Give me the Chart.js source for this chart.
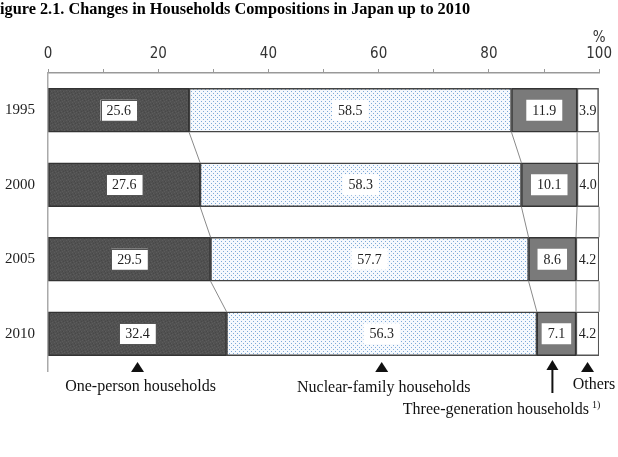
<!DOCTYPE html>
<html><head><meta charset="utf-8">
<script src="https://cdn.jsdelivr.net/npm/chart.js@4.4.1/dist/chart.umd.min.js"></script>
<style>html,body{margin:0;padding:0;background:#fff}#wrap{width:618px;height:457px;position:relative}</style>
</head><body><div id="wrap"><canvas id="c" width="618" height="457"></canvas></div>
<script>
const years = ['1995', '2000', '2005', '2010'];
const onePerson = [25.6, 27.6, 29.5, 32.4];
const nuclear = [58.5, 58.3, 57.7, 56.3];
const threeGen = [11.9, 10.1, 8.6, 7.1];
const others = [3.9, 4.0, 4.2, 4.2];
const seriesNames = ['One-person households', 'Nuclear-family households', 'Three-generation households', 'Others'];
const xTicks = [0, 20, 40, 60, 80, 100];
const titleText = 'igure 2.1. Changes in Households Compositions in Japan up to 2010';

const SERIF = '"Liberation Serif", "DejaVu Serif", serif';
const NARROW = '"Liberation Sans Narrow", "DejaVu Sans Condensed", sans-serif';

function makePattern(size, draw) {
  const c = document.createElement('canvas');
  c.width = c.height = size;
  const g = c.getContext('2d');
  draw(g);
  return g.createPattern(c, 'repeat');
}
const darkPat = makePattern(6, g => {
  g.fillStyle = '#515151'; g.fillRect(0, 0, 6, 6);
  g.fillStyle = '#5c5c5c';
  [[0,0],[3,1],[1,3],[4,4],[2,5]].forEach(p => g.fillRect(p[0], p[1], 1, 1));
  g.fillStyle = '#474747';
  [[2,1],[5,2],[0,4],[3,3]].forEach(p => g.fillRect(p[0], p[1], 1, 1));
});
const dotPat = makePattern(4, g => {
  g.fillStyle = '#f6f9fd'; g.fillRect(0, 0, 4, 4);
  g.fillStyle = '#7eaad8';
  g.fillRect(1, 1, 1, 1); g.fillRect(3, 3, 1, 1);
});

const overlay = {
  id: 'overlay',
  afterDatasetsDraw(chart) {
    const ctx = chart.ctx;
    const xs = chart.scales.x;
    const metas = [0,1,2,3].map(i => chart.getDatasetMeta(i));
    const sets = [onePerson, nuclear, threeGen, others];
    const n = years.length;
    // series lines between bars
    ctx.save();
    ctx.strokeStyle = '#8a8a8a';
    ctx.lineWidth = 1;
    for (let i = 0; i < n - 1; i++) {
      const a = metas[0].data[i].getProps(['y','height'], true);
      const b = metas[0].data[i+1].getProps(['y','height'], true);
      let c1 = 0, c2 = 0;
      for (let k = 0; k < 4; k++) {
        c1 += sets[k][i]; c2 += sets[k][i+1];
        const v1 = k === 3 ? 100 : c1, v2 = k === 3 ? 100 : c2;
        ctx.beginPath();
        ctx.moveTo(xs.getPixelForValue(v1), a.y + a.height / 2);
        ctx.lineTo(xs.getPixelForValue(v2), b.y - b.height / 2);
        ctx.stroke();
      }
    }
    ctx.restore();
    // value labels
    ctx.save();
    ctx.font = '14px ' + SERIF;
    ctx.textAlign = 'center';
    ctx.textBaseline = 'middle';
    for (let k = 0; k < 4; k++) {
      metas[k].data.forEach((el, i) => {
        const p = el.getProps(['x','y','base'], true);
        const cx = (p.x + p.base) / 2;
        const txt = sets[k][i].toFixed(1);
        const w = ctx.measureText(txt).width + 12;
        const h = 21;
        if (k < 3) {
          ctx.fillStyle = '#ffffff';
          ctx.fillRect(cx - w/2, p.y - h/2, w, h);
          if (k === 0) {
            ctx.strokeStyle = '#555';
            ctx.lineWidth = 1;
            ctx.strokeRect(Math.round(cx - w/2) + 0.5, Math.round(p.y - h/2) + 0.5, Math.round(w), h);
          }
        }
        ctx.fillStyle = '#222';
        ctx.fillText(txt, cx, p.y + 1);
      });
    }
    ctx.restore();
    // annotations below last bar
    const last = n - 1;
    ctx.save();
    ctx.fillStyle = '#111';
    ctx.strokeStyle = '#111';
    const centers = metas.map(m => {
      const p = m.data[last].getProps(['x','base'], true);
      return (p.x + p.base) / 2;
    });
    [0, 1, 3].forEach(k => {
      const cx = centers[k];
      ctx.beginPath();
      ctx.moveTo(cx, 362); ctx.lineTo(cx + 6.5, 372); ctx.lineTo(cx - 6.5, 372); ctx.closePath();
      ctx.fill();
    });
    // arrow for three-generation
    const ax = centers[2] - 4;
    ctx.lineWidth = 2;
    ctx.beginPath(); ctx.moveTo(ax, 368); ctx.lineTo(ax, 393); ctx.stroke();
    ctx.beginPath(); ctx.moveTo(ax, 360); ctx.lineTo(ax + 6, 370); ctx.lineTo(ax - 6, 370); ctx.closePath(); ctx.fill();
    ctx.font = '16px ' + SERIF;
    ctx.textBaseline = 'middle';
    ctx.textAlign = 'center';
    ctx.fillText(seriesNames[0], centers[0] + 3, 387);
    ctx.fillText(seriesNames[1], centers[1] + 2, 388);
    ctx.fillText(seriesNames[3], 594, 385);
    ctx.textAlign = 'right';
    ctx.fillText(seriesNames[2], 589, 410);
    ctx.font = '10px ' + SERIF;
    ctx.textAlign = 'left';
    ctx.fillText('1)', 592, 405);
    // percent sign
    ctx.font = '15px ' + NARROW;
    ctx.fillStyle = '#333';
    ctx.textAlign = 'center';
    ctx.fillText('%', xs.getPixelForValue(100), 38);
    // title
    ctx.font = 'bold 16.3px ' + SERIF;
    ctx.fillStyle = '#000';
    ctx.textAlign = 'left';
    ctx.fillText(titleText, 0, 10);
    ctx.restore();
  }
};

new Chart(document.getElementById('c'), {
  type: 'bar',
  data: {
    labels: years,
    datasets: [
      { label: seriesNames[0], data: onePerson, backgroundColor: darkPat, borderColor: '#333', borderWidth: 1.5 },
      { label: seriesNames[1], data: nuclear, backgroundColor: dotPat, borderColor: '#444', borderWidth: 1.5 },
      { label: seriesNames[2], data: threeGen, backgroundColor: '#7a7a7a', borderColor: '#333', borderWidth: 1.5 },
      { label: seriesNames[3], data: others, backgroundColor: '#ffffff', borderColor: '#555', borderWidth: 1.5 }
    ].map(d => Object.assign(d, { barThickness: 44, borderSkipped: false }))
  },
  options: {
    indexAxis: 'y',
    responsive: false,
    animation: false,
    layout: { padding: { top: 30, right: 17, bottom: 86, left: 0 } },
    plugins: { legend: { display: false }, tooltip: { enabled: false }, title: { display: false } },
    scales: {
      x: {
        type: 'linear', position: 'top', min: 0, max: 100, stacked: true,
        ticks: {
          stepSize: 10, autoSkip: false, maxRotation: 0, padding: 6,
          callback: v => xTicks.includes(v) ? String(v) : '',
          font: { family: NARROW, size: 15 }, color: '#333'
        },
        grid: { drawOnChartArea: false, drawTicks: true, tickLength: 4, color: '#999' },
        border: { display: true, color: '#999', width: 1.5 },
        afterFit(s) { s.height = 43; }
      },
      y: {
        stacked: true,
        ticks: { font: { family: SERIF, size: 15 }, color: '#222', padding: 13 },
        grid: { display: false, drawTicks: false },
        border: { display: true, color: '#aaa', width: 1.5 },
        afterFit(s) { s.width = 48; }
      }
    }
  },
  plugins: [overlay]
});
</script>
</body></html>
